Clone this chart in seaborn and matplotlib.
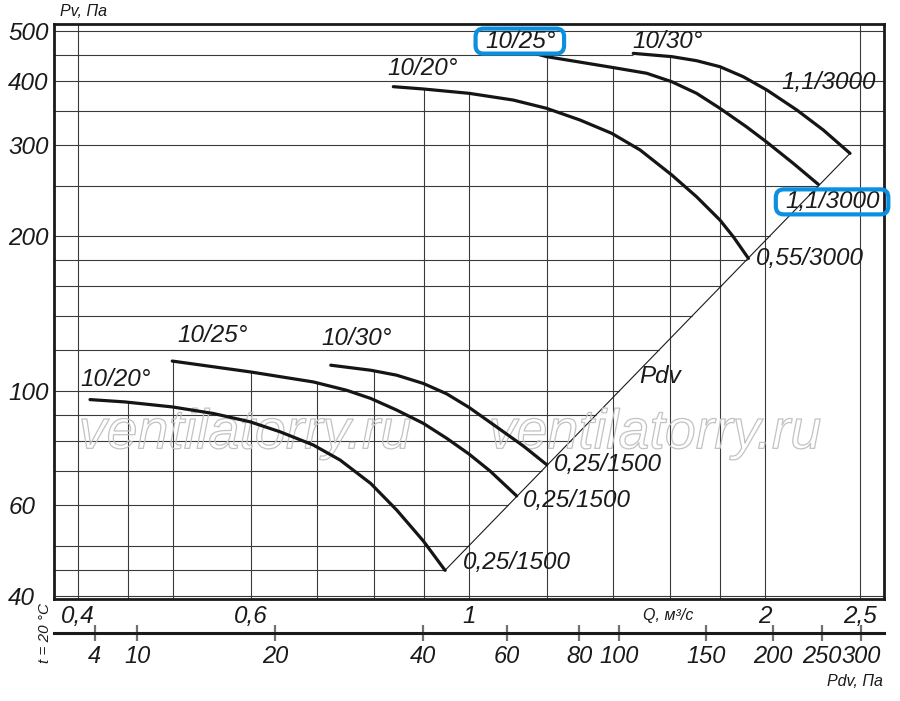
import numpy as np
import pandas as pd
import matplotlib
matplotlib.use('Agg')
import matplotlib.pyplot as plt
import matplotlib.patheffects as pe
import matplotlib.transforms as mtransforms
from matplotlib.patches import FancyBboxPatch
from matplotlib.ticker import NullLocator, NullFormatter
import seaborn as sns

# fan curves: Q in m3/s, Pv in Pa
# 3000 rpm
q_up20 = [0.8375, 0.8985, 1.0, 1.109, 1.1995, 1.297, 1.397, 1.493, 1.608, 1.704, 1.800, 1.857, 1.924]
pv_up20 = [389.9, 385.9, 378.5, 367.3, 353.9, 335.9, 316.5, 293.8, 262.7, 238.4, 214.8, 199.4, 181.0]
q_up25 = [1.173, 1.1995, 1.397, 1.516, 1.608, 1.704, 1.800, 1.916, 2.009, 2.138, 2.266]
pv_up25 = [451, 445.9, 425.1, 414.0, 398.6, 378.5, 353.9, 325.7, 304.2, 276.6, 252.0]
q_up30 = [1.469, 1.608, 1.704, 1.800, 1.901, 2.009, 2.155, 2.293, 2.441]
pv_up30 = [452.5, 445.9, 437.9, 426.3, 407.6, 384.1, 351.3, 321.2, 289.4]
# 1500 rpm
q_lo20 = [0.4116, 0.4467, 0.499, 0.5495, 0.5988, 0.6423, 0.6945, 0.7394, 0.7943, 0.8441, 0.8985, 0.9454]
pv_lo20 = [96.3, 95.3, 93.2, 90.5, 87.2, 83.4, 78.6, 73.5, 66.2, 58.8, 51.2, 44.9]
q_lo25 = [0.499, 0.5988, 0.6945, 0.7507, 0.7943, 0.8441, 0.8985, 0.9491, 1.0, 1.0504, 1.1181]
pv_lo25 = [114.4, 109.0, 104.2, 100.4, 96.8, 91.9, 86.6, 81.0, 75.5, 70.0, 62.6]
q_lo30 = [0.7234, 0.7943, 0.8441, 0.8985, 0.9491, 1.0, 1.067, 1.1354, 1.1995]
pv_lo30 = [112.3, 109.8, 107.4, 103.5, 98.8, 93.0, 85.2, 78.3, 72.0]

# dynamic pressure line (through the curve ends)
pdv_q = [0.9454, 2.441]
pdv_pv = [44.9, 289.4]

# curve annotations
label_text = ["10/20°", "10/25°", "10/30°", "1,1/3000", "1,1/3000", "0,55/3000", "Pdv",
              "10/20°", "10/25°", "10/30°", "0,25/1500", "0,25/1500", "0,25/1500"]
label_q = [0.898, 1.129, 1.594, 2.319, 2.346, 2.223, 1.564,
           0.4375, 0.549, 0.769, 1.385, 1.288, 1.119]
label_pv = [422, 478, 478, 398, 233, 181, 107,
            105.5, 128, 126.7, 72.2, 61.4, 46.6]
boxed = [1, 4]

# axes ticks and grid
q_ticks = [0.4, 0.6, 1, 2, 2.5]
q_tick_labels = ["0,4", "0,6", "1", "2", "2,5"]
pv_ticks = [40, 60, 100, 200, 300, 400, 500]
pv_tick_labels = ["40", "60", "100", "200", "300", "400", "500"]
grid_q = [0.4, 0.45, 0.5, 0.6, 0.7, 0.8, 0.9, 1, 1.2, 1.4, 1.6, 1.8, 2, 2.5]
grid_pv = [40, 45, 50, 60, 70, 80, 90, 100, 120, 140, 160, 180, 200, 250, 300, 350, 400, 450, 500]
grid_stop_at_up30 = 450

# Pdv scale under the chart
pdv_tick_labels = ["4", "10", "20", "40", "60", "80", "100", "150", "200", "250", "300"]
pdv_tick_q = [0.416, 0.4596, 0.635, 0.898, 1.093, 1.294, 1.421, 1.742, 2.039, 2.286, 2.505]

sns.set_theme(style='white')
plt.rcParams['font.family'] = ['Liberation Sans', 'DejaVu Sans']
plt.rcParams['font.style'] = 'italic'

INK = '#1a1a1a'
GRID = '#3a3a3a'
BLUE = '#0b8fdf'

fig = plt.figure(figsize=(9, 7.01), dpi=100)
ax = fig.add_axes([0.06, 0.1455, 0.9222, 0.8203])
ax.set_xscale('log')
ax.set_yscale('log')
x_lo, x_hi = 0.3783, 2.643
y_lo, y_hi = 39.5, 516
ax.set_xlim(x_lo, x_hi)
ax.set_ylim(y_lo, y_hi)

curves = {
    'up20': (q_up20, pv_up20), 'up25': (q_up25, pv_up25), 'up30': (q_up30, pv_up30),
    'lo20': (q_lo20, pv_lo20), 'lo25': (q_lo25, pv_lo25), 'lo30': (q_lo30, pv_lo30),
}
df = pd.concat([pd.DataFrame({'Q': q, 'Pv': p, 'curve': name})
                for name, (q, p) in curves.items()], ignore_index=True)

# grid: horizontal lines stop at the Pdv line, vertical ones at the top curve
lq = np.log10(pdv_q)
lp = np.log10(pdv_pv)
for v in grid_pv:
    right = x_hi
    if pdv_pv[0] <= v <= pdv_pv[1]:
        right = 10 ** np.interp(np.log10(v), lp, lq)
    if v == grid_stop_at_up30:
        right = q_up30[0]
    ax.hlines(v, x_lo, right, color=GRID, lw=0.8, zorder=1)
for q in grid_q:
    tops = [10 ** np.interp(np.log10(q), np.log10(cq), np.log10(cp))
            for cq, cp in curves.values() if cq[0] <= q <= cq[-1]]
    top = max(tops) if tops else y_hi
    ax.vlines(q, y_lo, top, color=GRID, lw=0.8, zorder=1)

ax.plot(pdv_q, pdv_pv, color=INK, lw=0.8, zorder=2)
sns.lineplot(data=df, x='Q', y='Pv', units='curve', estimator=None, sort=False,
             color='#151515', lw=2.3, legend=False, ax=ax, zorder=3)

# watermark
for wx in [0.23, 0.724]:
    ax.text(wx, 0.262, 'ventilatorry.ru', transform=ax.transAxes, ha='center', va='baseline',
            fontsize=40, color=(1, 1, 1, 0), zorder=2.5,
            path_effects=[pe.Stroke(linewidth=0.9, foreground='#c2c2c2')])

texts = []
for t, q, p in zip(label_text, label_q, label_pv):
    texts.append(ax.text(q, p, t, ha='center', va='center', fontsize=17.5, color=INK, zorder=4))

ax.set_xticks(q_ticks, labels=q_tick_labels)
ax.set_yticks(pv_ticks, labels=pv_tick_labels, ha='left')
ax.xaxis.set_minor_locator(NullLocator())
ax.yaxis.set_minor_locator(NullLocator())
ax.xaxis.set_minor_formatter(NullFormatter())
ax.yaxis.set_minor_formatter(NullFormatter())
ax.tick_params(axis='both', which='both', length=0, labelsize=17.5, labelcolor=INK)
ax.tick_params(axis='x', pad=4)
ax.tick_params(axis='y', pad=33)
ax.set_xlabel('')
ax.set_ylabel('')
ax.grid(False)
for s in ax.spines.values():
    s.set_color(INK)
    s.set_linewidth(2)

sec = ax.secondary_xaxis(-0.0591)
sec.set_xticks(pdv_tick_q, labels=pdv_tick_labels)
sec.xaxis.set_minor_locator(NullLocator())
sec.xaxis.set_minor_formatter(NullFormatter())
sec.tick_params(axis='x', which='major', direction='inout', length=11.5, width=1.6,
                color='#707070', labelsize=17, labelcolor=INK, pad=3)
sec.tick_params(axis='x', which='minor', length=0)
sec.spines['bottom'].set_linewidth(2.2)
sec.spines['bottom'].set_color(INK)

ax.text(0.0072, 1.021, 'Pv, Па', transform=ax.transAxes, ha='left', va='center', fontsize=11.5, color=INK)
ax.text(0.7398, -0.028, 'Q, м³/с', transform=ax.transAxes, ha='center', va='center', fontsize=11.5, color=INK)
ax.text(0.9988, -0.1443, 'Pdv, Па', transform=ax.transAxes, ha='right', va='center', fontsize=11.5, color=INK)
ax.text(-0.0108, -0.0591, 't = 20 °C', transform=ax.transAxes, ha='center', va='center',
        rotation=90, fontsize=11, color=INK)

# blue highlight boxes around two labels
fig.canvas.draw()
renderer = fig.canvas.get_renderer()
for i in boxed:
    bb = texts[i].get_window_extent(renderer)
    box = FancyBboxPatch((bb.x0 - 10, bb.y0 - 1), bb.width + 18, bb.height + 2,
                         boxstyle='round,pad=0,rounding_size=8', fc='none', ec=BLUE, lw=3,
                         transform=mtransforms.IdentityTransform(), zorder=5)
    fig.add_artist(box)

fig.savefig('out.png', dpi=100)
